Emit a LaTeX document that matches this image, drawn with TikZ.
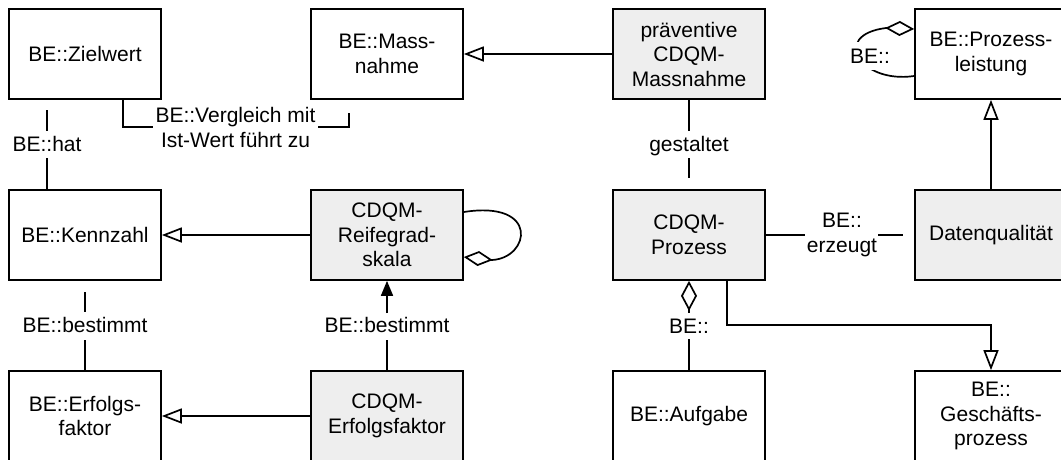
\documentclass[tikz,border=0pt]{standalone}
\usepackage{fontspec}
\setmainfont{Liberation Sans}
\usetikzlibrary{arrows.meta,calc}
\definecolor{boxgrey}{RGB}{238,238,238}

\begin{document}
\begin{tikzpicture}[x=1pt,y=-1pt,
  every node/.style={font=\fontsize{21}{24.5}\selectfont, align=center},
  box/.style={draw, line width=1.7pt, minimum width=152pt, minimum height=90pt,
              inner sep=0pt, fill=white},
  greybox/.style={box, fill=boxgrey},
  conn/.style={line width=1.7pt},
  lbl/.style={inner sep=0pt, font=\fontsize{21}{25}\selectfont},
  gen/.style={-{Triangle[length=20pt,width=15pt,fill=white]}},
  navi/.style={-{Triangle[length=15pt,width=12pt]}},
  aggr/.style={{Diamond[length=30pt,width=16pt,fill=white]}-},
  loopaggr/.style={-{Diamond[length=29pt,width=15pt,fill=white]}}
]
\useasboundingbox (0,0) rectangle (1061,459);
\fill[white] (0,0) rectangle (1061,459);
\clip (0,0) rectangle (1061,459);

% classes
\node[box]     (zw)  at (85,54)   {BE::Zielwert};
\node[box]     (mn)  at (387,54)  {BE::Mass-\\nahme};
\node[greybox] (pm)  at (689,54)  {präventive\\CDQM-\\Massnahme};
\node[box]     (pl)  at (991,54)  {BE::Prozess-\\leistung};
\node[box]     (kz)  at (85,235)  {BE::Kennzahl};
\node[greybox] (rs)  at (387,235) {CDQM-\\Reifegrad-\\skala};
\node[greybox] (cp)  at (689,235) {CDQM-\\Prozess};
\node[greybox] (dq)  at (991,235) {Datenqualität};
\node[box]     (ef)  at (85,416)  {BE::Erfolgs-\\faktor};
\node[greybox] (cef) at (387,416) {CDQM-\\Erfolgsfaktor};
\node[box]     (af)  at (689,416) {BE::Aufgabe};
\node[box]     (gp)  at (991,416) {BE::\\Geschäfts-\\prozess};

% generalisations
\draw[conn,gen] (pm.west) -- (mn.east);
\draw[conn,gen] (rs.west) -- (kz.east);
\draw[conn,gen] (cef.west) -- (ef.east);
\draw[conn,gen] (dq.north) -- (pl.south);
\coordinate (gpbend) at (991,325);
\draw[conn,gen] ($(cp.south)+(38,0)$) |- (gpbend) -- (gp.north);

% BE::hat
\coordinate (hat1) at (47,110);
\coordinate (hat2) at (47,131);
\coordinate (hat3) at (47,158);
\draw[conn] (hat1) -- (hat2);
\node[lbl,anchor=base] (hat) at (47,151) {BE::hat};
\draw[conn] (hat3) -- (hat3 |- kz.north);

% BE::Vergleich mit Ist-Wert fuehrt zu
\coordinate (vg1) at (153,127);
\coordinate (vg2) at (318,127);
\coordinate (vg3) at (349,113);
\draw[conn] ($(zw.south)+(38,0)$) |- (vg1);
\node[lbl] (vg) at (235.5,127) {BE::Vergleich mit\\Ist-Wert führt zu};
\draw[conn] (vg2) -| (vg3);

% gestaltet
\coordinate (gs1) at (689,131);
\coordinate (gs2) at (689,158);
\coordinate (gs3) at (689,178);
\draw[conn] (pm.south) -- (gs1);
\node[lbl,anchor=base] (gs) at (689,151) {gestaltet};
\draw[conn] (gs2) -- (gs3);

% BE::erzeugt
\coordinate (ez1) at (805,235);
\coordinate (ez2) at (878,235);
\coordinate (ez3) at (903,235);
\draw[conn] (cp.east) -- (ez1);
\node[lbl] (ez) at (842,235) {BE::\\erzeugt};
\draw[conn] (ez2) -- (ez3);

% BE::bestimmt (left)
\coordinate (bl1) at (85,292);
\coordinate (bl2) at (85,312);
\coordinate (bl3) at (85,340);
\draw[conn] (bl1) -- (bl2);
\node[lbl,anchor=base] (bl) at (85,332) {BE::bestimmt};
\draw[conn] (bl3) -- (ef.north);

% BE::bestimmt (right, navigable)
\coordinate (br1) at (387,313);
\coordinate (br2) at (387,340);
\draw[conn,navi] (br1) -- (rs.south);
\node[lbl,anchor=base] (br) at (387,332) {BE::bestimmt};
\draw[conn] (cef.north) -- (br2);

% aggregation CDQM-Prozess <>- BE::Aufgabe
\coordinate (ag1) at (689,313);
\coordinate (ag2) at (689,339);
\draw[conn,aggr] (cp.south) -- (ag1);
\node[lbl,anchor=base] (ag) at (689,333) {BE::};
\draw[conn] (ag2) -- (af.north);

% reflexive aggregation on CDQM-Reifegradskala
\coordinate (rsb) at (492,260);
\draw[conn,loopaggr] ($(rs.east)+(0,-23)$)
  .. controls (540,200) and (530,258) .. (rsb) -- ($(rs.east)+(0,22)$);

% reflexive aggregation on BE::Prozessleistung
\coordinate (plb) at (886,28);
\draw[conn,loopaggr] ($(pl.west)+(0,22)$)
  .. controls (860,84) and (830,35) .. (plb) -- ($(pl.west)+(0,-25)$);
\node[lbl,anchor=base,fill=white,inner xsep=2pt,inner ysep=7pt] (plself) at (870,63) {BE::};
\end{tikzpicture}
\end{document}
